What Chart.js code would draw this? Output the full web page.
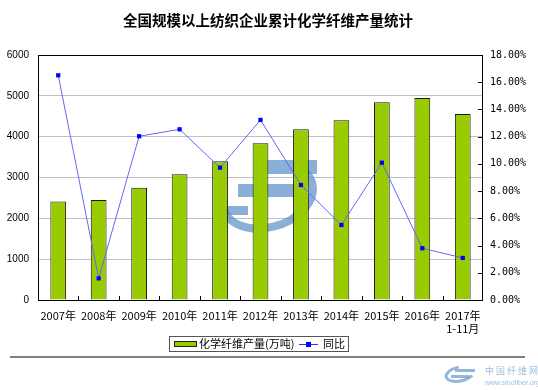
<!DOCTYPE html>
<html>
<head>
<meta charset="utf-8">
<script src="https://cdn.jsdelivr.net/npm/chart.js@4"></script>
<style>
  html, body { margin: 0; padding: 0; background: #fff; }
  #wrap { width: 538px; height: 390px; }
</style>
</head>
<body>
<div id="wrap"><canvas id="chart" width="538" height="390"></canvas></div>
<script>
const TITLE = "全国规模以上纺织企业累计化学纤维产量统计";
const years = ["2007年", "2008年", "2009年", "2010年", "2011年", "2012年", "2013年", "2014年", "2015年", "2016年", ["2017年", "1-11月"]];
const output = [2410, 2450, 2750, 3080, 3400, 3840, 4180, 4400, 4840, 4950, 4555];
const growth = [16.51, 1.59, 12.03, 12.54, 9.72, 13.23, 8.45, 5.51, 10.09, 3.80, 3.09];
const outputLabel = "化学纤维产量(万吨)";
const growthLabel = "同比";

const CJK = '"Noto Sans CJK SC", sans-serif';

// title, frame, little ticks, legend and watermark
const decor = {
  id: "decor",
  beforeDatasetsDraw(chart) {
    const ctx = chart.ctx;
    // faint logo watermark behind the series
    ctx.save();
    ctx.globalAlpha = 0.7;
    ctx.strokeStyle = "#5a8fc8";
    ctx.fillStyle = "#5a8fc8";
    ctx.lineWidth = 8;
    ctx.beginPath();
    ctx.ellipse(268, 196, 46, 31, -0.3, -0.7, Math.PI + 0.35);
    ctx.stroke();
    ctx.fillRect(257, 160, 60, 14);
    ctx.fillRect(238, 184, 62, 13);
    ctx.fillRect(226, 206, 22, 9);
    ctx.restore();
  },
  afterDraw(chart) {
    const ctx = chart.ctx;
    const a = chart.chartArea;
    const y1 = chart.scales.y1;
    ctx.save();
    // title
    ctx.fillStyle = "#000";
    ctx.font = "bold 14.5px " + CJK;
    ctx.textAlign = "center";
    ctx.textBaseline = "middle";
    ctx.fillText(TITLE, 268, 20);

    // plot frame
    ctx.strokeStyle = "#000";
    ctx.lineWidth = 1;
    ctx.strokeRect(a.left + 0.5, a.top + 0.5, a.right - a.left - 1, a.bottom - a.top);

    // category separators on the x axis
    ctx.beginPath();
    const step = (a.right - a.left) / years.length;
    for (let i = 1; i < years.length; i++) {
      const px = Math.round(a.left + step * i) + 0.5;
      ctx.moveTo(px, a.bottom);
      ctx.lineTo(px, a.bottom - 4);
    }
    // right axis inward ticks
    for (let v = 2; v < 18; v += 2) {
      const py = Math.round(y1.getPixelForValue(v)) + 0.5;
      ctx.moveTo(a.right - 5, py);
      ctx.lineTo(a.right, py);
    }
    ctx.stroke();

    // legend
    const lx = 169, ly = 336, lw = 179, lh = 15;
    ctx.strokeStyle = "#555";
    ctx.strokeRect(lx + 0.5, ly + 0.5, lw, lh);
    ctx.fillStyle = "#99cc00";
    ctx.fillRect(174, 341, 23, 6);
    ctx.strokeStyle = "#222";
    ctx.strokeRect(174.5, 341.5, 22, 5);
    ctx.fillStyle = "#000";
    ctx.font = "11px " + CJK;
    ctx.textAlign = "left";
    ctx.fillText(outputLabel, 199, 344);
    ctx.strokeStyle = "#3333ff";
    ctx.beginPath();
    ctx.moveTo(299, 344.5);
    ctx.lineTo(318, 344.5);
    ctx.stroke();
    ctx.fillStyle = "#0000ff";
    ctx.fillRect(306, 342, 5, 5);
    ctx.fillStyle = "#000";
    ctx.fillText(growthLabel, 323, 344);

    // bottom rule
    ctx.strokeStyle = "#808080";
    ctx.lineWidth = 2;
    ctx.beginPath();
    ctx.moveTo(10, 357);
    ctx.lineTo(525, 357);
    ctx.stroke();

    // site mark
    ctx.globalAlpha = 0.6;
    ctx.strokeStyle = "#4a86c5";
    ctx.lineWidth = 3;
    ctx.beginPath();
    ctx.ellipse(460, 374, 14, 7, -0.2, 0.6, Math.PI * 1.5);
    ctx.stroke();
    ctx.fillStyle = "#4a86c5";
    ctx.fillRect(455, 369, 20, 3);
    ctx.fillRect(451, 375, 18, 3);
    ctx.fillStyle = "#5b8fd0";
    ctx.font = "9px " + CJK;
    ctx.fillText("中 国 纤 维 网", 485, 371);
    ctx.font = "7px Arial, sans-serif";
    ctx.fillText("www.sinofiber.org", 485, 383);
    ctx.restore();
  }
};

new Chart(document.getElementById("chart"), {
  type: "bar",
  data: {
    labels: years,
    datasets: [
      {
        type: "line",
        label: growthLabel,
        data: growth,
        yAxisID: "y1",
        borderColor: "#6464ff",
        borderWidth: 1,
        pointStyle: "rect",
        pointRadius: 3,
        pointBackgroundColor: "#0000ff",
        pointBorderColor: "#0000ff",
        pointBorderWidth: 0,
        tension: 0,
        order: 0,
      },
      {
        label: outputLabel,
        data: output,
        yAxisID: "y",
        backgroundColor: "#99cc00",
        borderColor: "#1a1a1a",
        borderWidth: 1,
        categoryPercentage: 1,
        barPercentage: 0.39,
        order: 1,
      },
    ],
  },
  options: {
    responsive: false,
    animation: false,
    layout: { padding: { top: 55, left: 0, right: 0, bottom: 0 } },
    plugins: {
      legend: { display: false },
      title: { display: false },
      tooltip: { enabled: false },
    },
    scales: {
      x: {
        offset: true,
        grid: { display: false, drawTicks: false },
        border: { display: false },
        ticks: {
          color: "#000",
          font: { family: CJK, size: 11, lineHeight: 1.2 },
          padding: 9,
          maxRotation: 0,
          autoSkip: false,
        },
        afterFit(s) { s.height = 90; },
      },
      y: {
        position: "left",
        min: 0,
        max: 6000,
        ticks: {
          stepSize: 1000,
          color: "#000",
          font: { family: '"Liberation Sans", Arial, sans-serif', size: 10 },
          padding: 9,
          callback: (v) => String(v),
        },
        grid: { color: "#c0c0c0", drawTicks: false },
        border: { display: false },
        afterFit(s) { s.width = 38; },
      },
      y1: {
        position: "right",
        min: 0,
        max: 18,
        ticks: {
          stepSize: 2,
          color: "#000",
          font: { family: '"DejaVu Sans Mono", monospace', size: 10 },
          padding: 7,
          callback: (v) => v.toFixed(2) + "%",
        },
        grid: { display: false, drawTicks: false },
        border: { display: false },
        afterFit(s) { s.width = 55; },
      },
    },
  },
  plugins: [decor],
});
</script>
</body>
</html>
